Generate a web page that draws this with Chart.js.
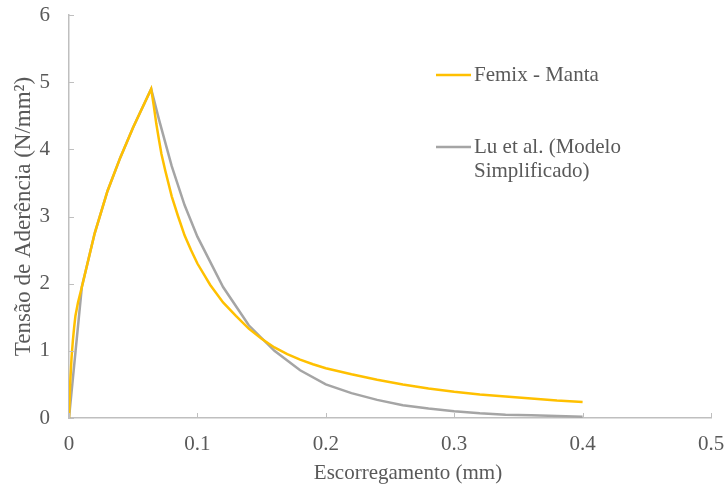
<!DOCTYPE html>
<html>
<head>
<meta charset="utf-8">
<script src="https://cdn.jsdelivr.net/npm/chart.js@4"></script>
<style>
  body { margin: 0; background: #fff; }
</style>
</head>
<body>
<canvas id="chart" width="724" height="486"></canvas>
<script>
const femixX = [0, 0.001, 0.002, 0.003, 0.004, 0.005, 0.007, 0.01, 0.02, 0.03, 0.04, 0.05, 0.064,
    0.066, 0.068, 0.07, 0.072, 0.075, 0.08, 0.085, 0.09, 0.095, 0.1, 0.11, 0.12, 0.13, 0.14, 0.15,
    0.16, 0.17, 0.18, 0.19, 0.2, 0.22, 0.24, 0.26, 0.28, 0.3, 0.32, 0.34, 0.36, 0.38, 0.4];
const femixY = [0, 0.55, 0.9, 1.15, 1.35, 1.52, 1.72, 1.95, 2.75, 3.38, 3.88, 4.33, 4.9,
    4.65, 4.38, 4.15, 3.93, 3.68, 3.3, 3.0, 2.72, 2.5, 2.3, 1.98, 1.72, 1.52, 1.33, 1.18,
    1.05, 0.95, 0.87, 0.8, 0.74, 0.65, 0.57, 0.5, 0.44, 0.39, 0.35, 0.32, 0.29, 0.26, 0.24];

const luX = [0, 0.01, 0.02, 0.03, 0.04, 0.05, 0.064, 0.07, 0.08, 0.09, 0.1, 0.12, 0.14, 0.16,
    0.18, 0.2, 0.22, 0.24, 0.26, 0.28, 0.3, 0.32, 0.34, 0.36, 0.38, 0.4];
const luY = [0, 1.95, 2.75, 3.38, 3.88, 4.33, 4.9, 4.45, 3.75, 3.17, 2.7, 1.95, 1.38, 1.0,
    0.71, 0.5, 0.37, 0.27, 0.19, 0.14, 0.1, 0.07, 0.05, 0.04, 0.03, 0.02];

const seriesNames = ['Femix - Manta', ['Lu et al. (Modelo', 'Simplificado)']];
const xTitle = 'Escorregamento (mm)';
const yTitle = 'Tensão de Aderência (N/mm²)';

const font = 'Liberation Serif, Times New Roman, serif';
const fsize = 21;
const textColor = '#595959';
const axisColor = '#bfbfbf';

function pts(xs, ys) {
    return xs.map((x, i) => ({ x: x, y: ys[i] }));
}

// ticks inside the plot, x title, and the legend inside the plot area
const extras = {
    id: 'extras',
    afterDraw(chart) {
        const ctx = chart.ctx;
        const xs = chart.scales.x, ys = chart.scales.y;
        const area = chart.chartArea;
        ctx.save();
        ctx.strokeStyle = axisColor;
        ctx.lineWidth = 1;
        xs.ticks.forEach((t) => {
            const px = Math.round(xs.getPixelForValue(t.value)) + 0.5;
            ctx.beginPath();
            ctx.moveTo(px, area.bottom);
            ctx.lineTo(px, area.bottom - 5);
            ctx.stroke();
        });
        ys.ticks.forEach((t) => {
            const py = Math.round(ys.getPixelForValue(t.value)) + 0.5;
            ctx.beginPath();
            ctx.moveTo(area.left, py);
            ctx.lineTo(area.left + 5, py);
            ctx.stroke();
        });

        ctx.font = fsize + 'px ' + font;
        ctx.fillStyle = textColor;
        ctx.textAlign = 'center';
        ctx.textBaseline = 'alphabetic';
        ctx.fillText(xTitle, 408, 479);

        // legend
        const rows = [75, 147];
        ctx.textAlign = 'left';
        ctx.textBaseline = 'middle';
        chart.data.datasets.forEach((ds, i) => {
            const y = rows[i];
            ctx.strokeStyle = ds.borderColor;
            ctx.lineWidth = 2.5;
            ctx.beginPath();
            ctx.moveTo(436, y);
            ctx.lineTo(471, y);
            ctx.stroke();
            const lines = Array.isArray(ds.label) ? ds.label : [ds.label];
            lines.forEach((s, j) => ctx.fillText(s, 474, y + j * 24));
        });
        ctx.restore();
    }
};

new Chart(document.getElementById('chart'), {
    type: 'scatter',
    data: {
        datasets: [{
            label: seriesNames[0],
            data: pts(femixX, femixY),
            showLine: true,
            borderColor: '#ffc000',
            borderWidth: 2.5,
            pointRadius: 0,
            tension: 0
        }, {
            label: seriesNames[1],
            data: pts(luX, luY),
            showLine: true,
            borderColor: '#a5a5a5',
            borderWidth: 2.5,
            pointRadius: 0,
            tension: 0
        }]
    },
    options: {
        responsive: false,
        animation: false,
        layout: { padding: { top: 15, right: 13, left: 0, bottom: 0 } },
        plugins: {
            legend: { display: false },
            tooltip: { enabled: false }
        },
        scales: {
            x: {
                type: 'linear',
                min: 0,
                max: 0.5,
                ticks: { stepSize: 0.1, color: textColor, font: { family: font, size: fsize }, padding: 14 },
                grid: { display: false, drawTicks: false },
                border: { display: true, color: axisColor, width: 1.5 },
                title: { display: false, text: xTitle },
                afterFit: (s) => { s.height = 68; s.paddingLeft = 0; s.paddingRight = 0; }
            },
            y: {
                min: 0,
                max: 6,
                ticks: { stepSize: 1, color: textColor, font: { family: font, size: fsize }, padding: 19 },
                grid: { display: false, drawTicks: false },
                border: { display: true, color: axisColor, width: 1.5 },
                title: {
                    display: true,
                    text: yTitle,
                    color: textColor,
                    font: { family: font, size: 23 },
                    padding: { top: 10, bottom: 0 }
                },
                afterFit: (s) => { s.width = 69; s.paddingTop = 0; s.paddingBottom = 0; }
            }
        }
    },
    plugins: [extras]
});
</script>
</body>
</html>
